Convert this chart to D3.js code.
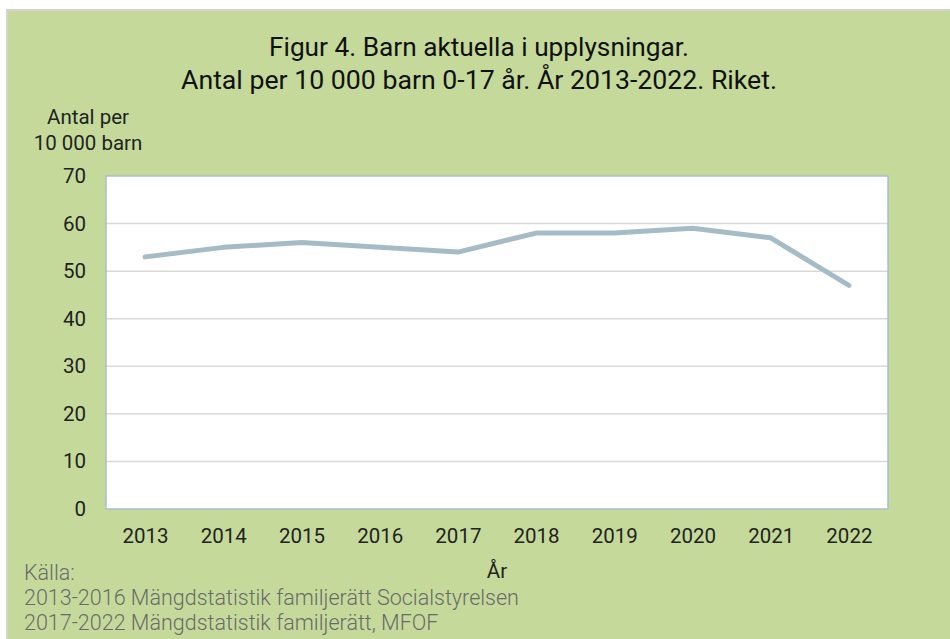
<!DOCTYPE html>
<html>
<head>
<meta charset="utf-8">
<script src="https://cdn.jsdelivr.net/npm/d3@7"></script>
<style>
  body { margin: 0; background: #fff; }
  text { font-family: Roboto, "Noto Sans", sans-serif; }
</style>
</head>
<body>
<div id="vizcontainer"></div>
<script>
const width = 950,
  height = 639;

const years = ['2013', '2014', '2015', '2016', '2017', '2018', '2019', '2020', '2021', '2022'];
const values = [53, 55, 56, 55, 54, 58, 58, 59, 57, 47];
const yTicks = [0, 10, 20, 30, 40, 50, 60, 70];
const titleLines = ['Figur 4. Barn aktuella i upplysningar.', 'Antal per 10 000 barn 0-17 år. År 2013-2022. Riket.'];
const yLabel = ['Antal per', '10 000 barn'];
const sourceLines = ['Källa:', '2013-2016 Mängdstatistik familjerätt Socialstyrelsen', '2017-2022 Mängdstatistik familjerätt, MFOF'];

const plot = { left: 106, right: 888, top: 176, bottom: 509 };

let viz = d3.select('#vizcontainer')
  .append('svg')
  .attr('width', width)
  .attr('height', height);

// frame and background
viz.append('rect')
  .attr('x', 6).attr('y', 9)
  .attr('width', width).attr('height', height)
  .attr('fill', '#d3d5cc');
viz.append('rect')
  .attr('x', 8).attr('y', 11)
  .attr('width', width).attr('height', height)
  .attr('fill', '#c5da9a');

// title
viz.append('text')
  .attr('x', 479).attr('y', 56)
  .attr('text-anchor', 'middle')
  .style('font-size', '25px')
  .attr('fill', '#111')
  .selectAll('tspan')
  .data(titleLines)
  .join('tspan')
  .attr('x', 479)
  .attr('dy', (d, i) => i ? 33 : 0)
  .attr('lengthAdjust', 'spacingAndGlyphs')
  .attr('textLength', (d, i) => i ? 596 : 420)
  .text(d => d);

const x = d3.scalePoint()
  .domain(years)
  .range([plot.left, plot.right])
  .padding(0.5);

const y = d3.scaleLinear()
  .domain([0, 70])
  .range([plot.bottom, plot.top]);

// plot area
viz.append('rect')
  .attr('x', plot.left).attr('y', plot.top)
  .attr('width', plot.right - plot.left)
  .attr('height', plot.bottom - plot.top)
  .attr('fill', '#fff');

// gridlines
viz.append('g')
  .selectAll('line')
  .data(yTicks.filter(d => d > 0 && d < 70))
  .join('line')
  .attr('x1', plot.left).attr('x2', plot.right)
  .attr('y1', d => y(d)).attr('y2', d => y(d))
  .attr('stroke', '#d9d9d9')
  .attr('stroke-width', 1.5);

viz.append('rect')
  .attr('x', plot.left).attr('y', plot.top)
  .attr('width', plot.right - plot.left)
  .attr('height', plot.bottom - plot.top)
  .attr('fill', 'none')
  .attr('stroke', '#a9bfd0')
  .attr('stroke-width', 1.5);

// y axis
const yAxis = viz.append('g')
  .attr('transform', `translate(${plot.left},0)`)
  .call(d3.axisLeft(y).tickValues(yTicks).tickSize(0).tickPadding(20));
yAxis.select('.domain').remove();
yAxis.selectAll('text')
  .style('font-size', '20.5px')
  .style('font-family', 'Roboto, sans-serif')
  .attr('fill', '#222');

// x axis
const xAxis = viz.append('g')
  .attr('transform', `translate(0,${plot.bottom})`)
  .call(d3.axisBottom(x).tickSize(0).tickPadding(19));
xAxis.select('.domain').remove();
xAxis.selectAll('text')
  .style('font-size', '20.5px')
  .style('font-family', 'Roboto, sans-serif')
  .attr('fill', '#222');

// axis titles
viz.append('text')
  .attr('y', 124)
  .attr('text-anchor', 'middle')
  .style('font-size', '20.5px')
  .attr('fill', '#222')
  .selectAll('tspan')
  .data(yLabel)
  .join('tspan')
  .attr('x', 88)
  .attr('dy', (d, i) => i ? 26 : 0)
  .text(d => d);

viz.append('text')
  .attr('x', 497).attr('y', 578)
  .attr('text-anchor', 'middle')
  .style('font-size', '20.5px')
  .attr('fill', '#222')
  .text('År');

// line
const line = d3.line()
  .x((d, i) => x(years[i]))
  .y(d => y(d));

viz.append('path')
  .datum(values)
  .attr('d', line)
  .attr('fill', 'none')
  .attr('stroke', '#a5bcc6')
  .attr('stroke-width', 5)
  .attr('stroke-linecap', 'round')
  .attr('stroke-linejoin', 'round');

// source
viz.append('text')
  .attr('y', 580)
  .style('font-size', '21.5px')
  .style('font-weight', 300)
  .attr('fill', '#6a6a6a')
  .selectAll('tspan')
  .data(sourceLines)
  .join('tspan')
  .attr('x', 24)
  .attr('dy', (d, i) => i ? 25 : 0)
  .text(d => d);
</script>
</body>
</html>
